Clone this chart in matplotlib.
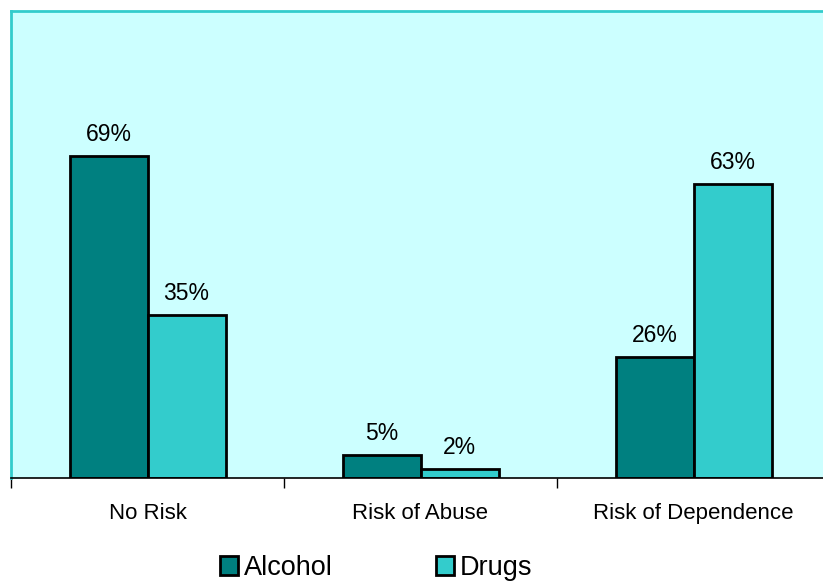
import matplotlib.pyplot as plt
import numpy as np

plt.rcParams['font.family'] = ['Liberation Sans', 'DejaVu Sans']

# data
categories = ["No Risk", "Risk of Abuse", "Risk of Dependence"]
alcohol = [69, 5, 26]
drugs = [35, 2, 63]

W, H = 823, 581
fig = plt.figure(figsize=(W / 100, H / 100), dpi=100)
# plot area in pixels: left 11, top 11, bottom 478, right edge past the figure (830)
ax = fig.add_axes([11 / W, (H - 478) / H, 819 / W, 467 / H])
ax.set_facecolor('#CCFFFF')

x = np.arange(len(categories))
bw = 78 / 273
b1 = ax.bar(x - bw / 2, alcohol, bw, color='#008080', edgecolor='black', linewidth=2, label='Alcohol')
b2 = ax.bar(x + bw / 2, drugs, bw, color='#33CCCC', edgecolor='black', linewidth=2, label='Drugs')

for bars, vals in ((b1, alcohol), (b2, drugs)):
    for b, v in zip(bars, vals):
        ax.text(b.get_x() + b.get_width() / 2, v + 4.6, f"{v}%", ha='center', va='center', fontsize=16.5)

ax.set_xlim(-0.5, 2.5)
ax.set_ylim(0, 100)
ax.set_yticks([])

# category labels under the axis, ticks between categories
ax.set_xticks([-0.5, 0.5, 1.5, 2.5])
ax.set_xticklabels([])
ax.tick_params(axis='x', length=7, width=1, color='black', direction='out')
for xi, c in zip(x, categories):
    ax.text(xi, -7.5, c, ha='center', va='center', fontsize=16)

for s in ['left', 'top']:
    ax.spines[s].set_color('#33CCCC')
    ax.spines[s].set_linewidth(2)
ax.spines['right'].set_visible(False)
ax.spines['bottom'].set_color('black')
ax.spines['bottom'].set_linewidth(1.2)

fig.legend(handles=[b1, b2], loc='center', bbox_to_anchor=(376 / W, 1 - 568 / H), ncol=2,
           frameon=False, fontsize=19.5, handlelength=0.68, handleheight=0.68, handletextpad=0.2,
           columnspacing=3.8)

fig.savefig('out.png', dpi=100)
